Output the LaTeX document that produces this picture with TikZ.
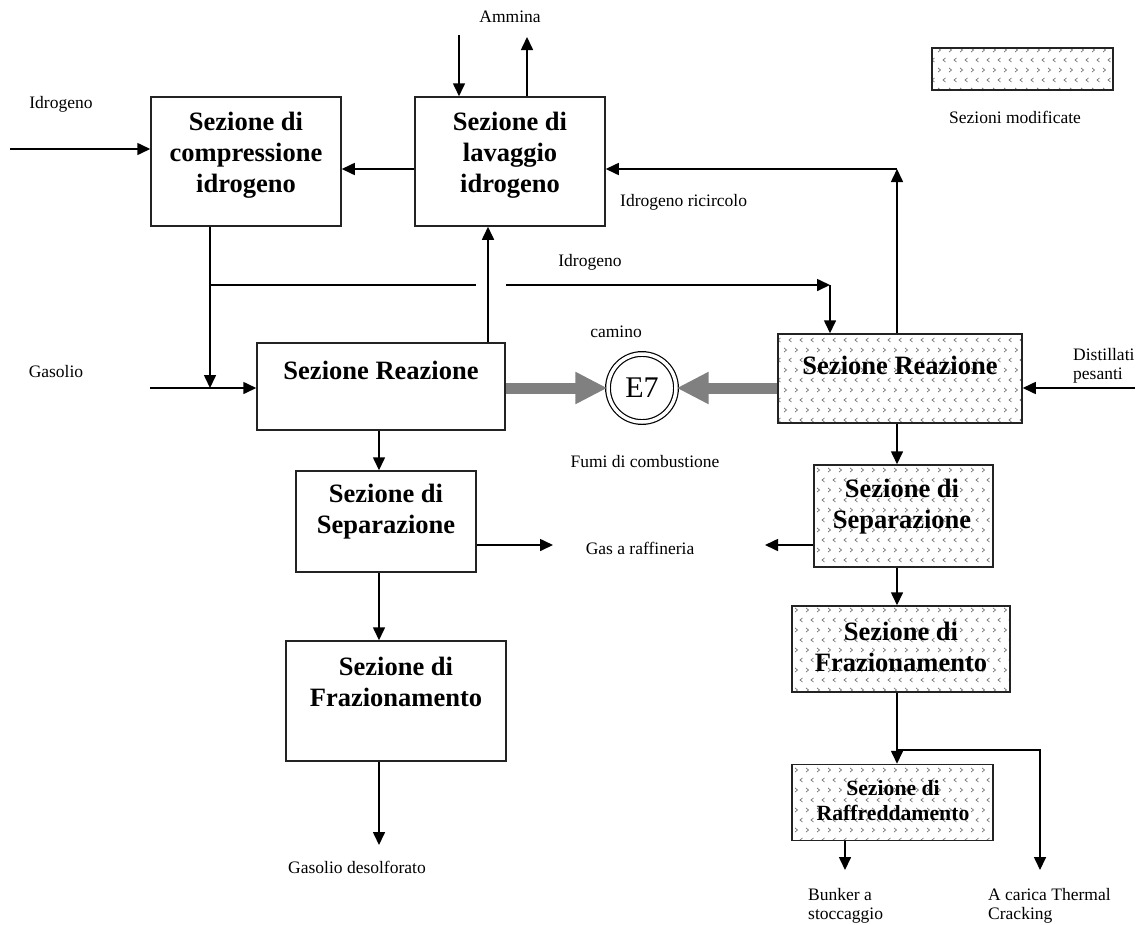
\documentclass[tikz,border=0pt]{standalone}
\usepackage{fontspec}
\setmainfont{Liberation Serif}
\definecolor{fumigray}{RGB}{128, 128, 128}
\definecolor{hatchgray}{RGB}{115, 115, 115}
\definecolor{edgegray}{RGB}{35, 35, 35}
\usepackage{tikz}
\usetikzlibrary{arrows.meta, positioning, patterns}
\pgfdeclarepatternformonly{chevrons}{\pgfqpoint{-1pt}{-1pt}}{\pgfqpoint{23pt}{21pt}}{\pgfqpoint{22pt}{20pt}}{
  \pgfsetlinewidth{0.7pt}
  \pgfpathmoveto{\pgfqpoint{3pt}{12pt}}\pgfpathlineto{\pgfqpoint{5.5pt}{14pt}}\pgfpathlineto{\pgfqpoint{3pt}{16pt}}
  \pgfpathmoveto{\pgfqpoint{14pt}{12pt}}\pgfpathlineto{\pgfqpoint{16.5pt}{14pt}}\pgfpathlineto{\pgfqpoint{14pt}{16pt}}
  \pgfpathmoveto{\pgfqpoint{10.5pt}{2pt}}\pgfpathlineto{\pgfqpoint{8pt}{4pt}}\pgfpathlineto{\pgfqpoint{10.5pt}{6pt}}
  \pgfpathmoveto{\pgfqpoint{21.5pt}{2pt}}\pgfpathlineto{\pgfqpoint{19pt}{4pt}}\pgfpathlineto{\pgfqpoint{21.5pt}{6pt}}
  \pgfusepath{stroke}
}

\begin{document}
\begin{tikzpicture}[
  x=1pt, y=-1pt,
  sect/.style={draw=edgegray, line width=1.5pt, inner sep=0pt},
  modsect/.style={sect, pattern=chevrons, pattern color=hatchgray},
  stxt/.style={font=\bfseries\fontsize{26.5}{31}\selectfont, align=center, inner sep=0pt},
  lbl/.style={font=\fontsize{17.5}{19.5}\selectfont, align=left, inner sep=0pt},
  flow/.style={draw=black, line width=1.6pt, -{Triangle[length=13pt, width=12pt]}},
  fumi/.style={draw=fumigray, line width=11pt, -{Triangle[length=32pt, width=30pt, fill=fumigray]}}
]
  \useasboundingbox (0,0) rectangle (1145,924);

  \node[sect, minimum width=190pt, minimum height=129pt] (comp) at (246,161.5) {};
  \node[stxt] (compT) at (246,155) {Sezione di\\compressione\\idrogeno};
  \node[sect, minimum width=190pt, minimum height=129pt] (lav) at (510,161.5) {};
  \node[stxt] (lavT) at (510,155) {Sezione di\\lavaggio\\idrogeno};
  \node[sect, minimum width=248pt, minimum height=87pt] (reaL) at (381,386.5) {};
  \node[stxt] (reaLT) at (381,370) {Sezione Reazione};
  \node[sect, minimum width=180pt, minimum height=101pt] (sepL) at (386,521.5) {};
  \node[stxt] (sepLT) at (386,512) {Sezione di\\Separazione};
  \node[sect, minimum width=220pt, minimum height=120pt] (fraL) at (396,701) {};
  \node[stxt] (fraLT) at (396,682) {Sezione di\\Frazionamento};

  \node[modsect, minimum width=244pt, minimum height=89pt] (reaR) at (900,378.5) {};
  \node[stxt] (reaRT) at (900,365) {Sezione Reazione};
  \node[modsect, minimum width=179pt, minimum height=102pt] (sepR) at (903.5,516) {};
  \node[stxt] (sepRT) at (902,507) {Sezione di\\Separazione};
  \node[modsect, minimum width=218pt, minimum height=86pt] (fraR) at (901,649) {};
  \node[stxt] (fraRT) at (901,647) {Sezione di\\Frazionamento};
  \node[modsect, minimum width=201pt, minimum height=76pt] (raf) at (892.5,802.5) {};
  \node[stxt, font=\bfseries\fontsize{21.7}{25}\selectfont] (rafT) at (893,801) {Sezione di\\Raffreddamento};

  \node[circle, draw=black, line width=1.2pt, double, double distance=3.5pt, minimum size=68pt, font=\fontsize{30}{30}\selectfont] (e7) at (642,388) {E7};

  \node[modsect, minimum width=181pt, minimum height=42pt] (legend) at (1022.5,69) {};
  \node[lbl, anchor=west] (legendT) at (949,117) {Sezioni modificate};

  \node[lbl] (ammina) at (510,17) {Ammina};
  \node[lbl] (h2lbl) at (61,104) {Idrogeno};
  \node[lbl, anchor=west] (ricirc) at (620,202) {Idrogeno ricircolo};
  \node[lbl] (h2mid) at (590,262) {Idrogeno};
  \node[lbl] (gasolio) at (56,372) {Gasolio};
  \node[lbl] (camino) at (616,332) {camino};
  \node[lbl] (fumiT) at (645,462) {Fumi di combustione};
  \node[lbl, anchor=north west] (distT) at (1073,348) {Distillati\\pesanti};
  \node[lbl] (gasraf) at (640,548) {Gas a raffineria};
  \node[lbl, anchor=west] (gasdes) at (288,867) {Gasolio desolforato};
  \node[lbl, anchor=north west] (bunker) at (808,888) {Bunker a\\stoccaggio};
  \node[lbl, anchor=north west] (thermal) at (988,888) {A carica Thermal\\Cracking};

  \coordinate (h2in) at (10,149);
  \coordinate (amIn) at (459,35);
  \coordinate (amOut) at (527,37);
  \coordinate (ric) at (897,169);
  \coordinate (gIn) at (150,388);
  \coordinate (gJn) at (210,388);
  \coordinate (gap1) at (476,285);
  \coordinate (gap2) at (506,285);
  \coordinate (h2c) at (830,285);
  \coordinate (upL) at (488,300);
  \coordinate (dIn) at (1135,388);
  \coordinate (colL) at (379,0);
  \coordinate (gasL) at (553,545);
  \coordinate (gasR) at (765,545);
  \coordinate (desOut) at (379,845);
  \coordinate (brA) at (897,750);
  \coordinate (thc) at (1040,870);
  \coordinate (bnk) at (845,870);

  \draw[flow] (h2in) -- (h2in -| comp.west);
  \draw[flow] (amIn) -- (amIn |- lav.north);
  \draw[flow] (amOut |- lav.north) -- (amOut);
  \draw[flow] (lav.west |- ric) -- (comp.east |- ric);
  \draw[flow] (reaR.north -| ric) -- (ric);
  \draw[flow] (ric) -- (lav.east |- ric);
  \draw[flow] (comp.south -| gJn) -- (gJn);
  \draw[flow] (gIn) -- (reaL.west |- gIn);
  \draw[line width=1.6pt] (gJn |- gap1) -- (gap1);
  \draw[flow] (gap2) -- (h2c);
  \draw[flow] (h2c) -- (h2c |- reaR.north);
  \draw[flow] (reaL.north -| upL) -- (lav.south -| upL);
  \draw[fumi] (reaL.east |- e7) -- (e7.west);
  \draw[fumi] (reaR.west |- e7) -- (e7.east);
  \draw[flow] (dIn) -- (dIn -| reaR.east);
  \draw[flow] (reaL.south -| colL) -- (sepL.north -| colL);
  \draw[flow] (sepL.east |- gasL) -- (gasL);
  \draw[flow] (sepL.south -| colL) -- (fraL.north -| colL);
  \draw[flow] (fraL.south -| colL) -- (desOut);
  \draw[flow] (reaR.south -| ric) -- (sepR.north -| ric);
  \draw[flow] (sepR.west |- gasR) -- (gasR);
  \draw[flow] (sepR.south -| ric) -- (fraR.north -| ric);
  \draw[flow] (fraR.south -| ric) -- (raf.north -| ric);
  \draw[flow] (brA) -| (thc);
  \draw[flow] (raf.south -| bnk) -- (bnk);
\end{tikzpicture}
\end{document}
